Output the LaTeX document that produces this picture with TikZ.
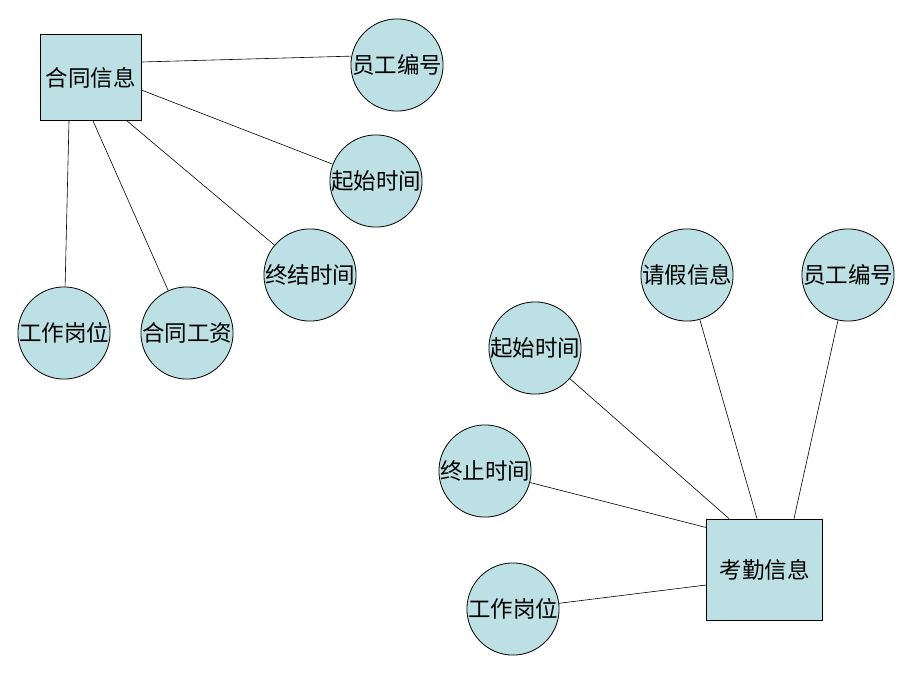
\documentclass[tikz,border=0pt]{standalone}
\usepackage{fontspec}
\newfontfamily\cjk{Noto Sans CJK SC}
\definecolor{fillc}{RGB}{188,224,227}
\tikzset{
  ent/.style={draw=black, fill=fillc, line width=0.8pt, inner sep=0pt, font=\cjk\fontsize{22.5}{24}\selectfont},
  attr/.style={draw=black, fill=fillc, circle, line width=0.8pt, minimum size=92pt, inner sep=0pt, font=\cjk\fontsize{22.5}{24}\selectfont},
  link/.style={draw=black, line width=0.6pt}
}
\begin{document}
\begin{tikzpicture}[x=1pt,y=-1pt]
\useasboundingbox (0,0) rectangle (920,690);
\fill[white] (0,0) rectangle (920,690);
% entity 1
\node[ent, minimum width=101pt, minimum height=86pt] (e1) at (90.5,77.5) {合同信息};
\node[attr] (a1) at (397,65) {员工编号};
\node[attr] (a2) at (376,181) {起始时间};
\node[attr] (a3) at (310,275) {终结时间};
\node[attr] (a4) at (187,333) {合同工资};
\node[attr] (a5) at (64,333) {工作岗位};
% entity 2
\node[ent, minimum width=116pt, minimum height=101pt] (e2) at (764.5,569.5) {考勤信息};
\node[attr] (b1) at (687,275) {请假信息};
\node[attr] (b2) at (848,275) {员工编号};
\node[attr] (b3) at (535,348) {起始时间};
\node[attr] (b4) at (485,471) {终止时间};
\node[attr] (b5) at (513,609) {工作岗位};
% connectors entity 1
\coordinate (p1) at ([yshift=15.5pt]e1.east);
\coordinate (p2) at ([yshift=-12.5pt]e1.east);
\coordinate (p3) at ([xshift=36.5pt]e1.south);
\coordinate (p4) at ([xshift=2.5pt]e1.south);
\coordinate (p5) at ([xshift=-21.5pt]e1.south);
\draw[link] (p1) -- (a1.169);
\draw[link] (p2) -- (a2);
\draw[link] (p3) -- (a3);
\draw[link] (p4) -- (a4);
\draw[link] (p5) -- (a5);
% connectors entity 2
\coordinate (q1) at ([xshift=-7.5pt]e2.north);
\coordinate (q2) at ([xshift=29.5pt]e2.north);
\coordinate (q3) at ([xshift=-35.5pt]e2.north);
\coordinate (q4) at ([yshift=42pt]e2.west);
\coordinate (q5) at ([yshift=-15.5pt]e2.west);
\draw[link] (q1) -- (b1);
\draw[link] (q2) -- (b2);
\draw[link] (q3) -- (b3);
\draw[link] (q4) -- (b4);
\draw[link] (q5) -- (b5);
\end{tikzpicture}
\end{document}
